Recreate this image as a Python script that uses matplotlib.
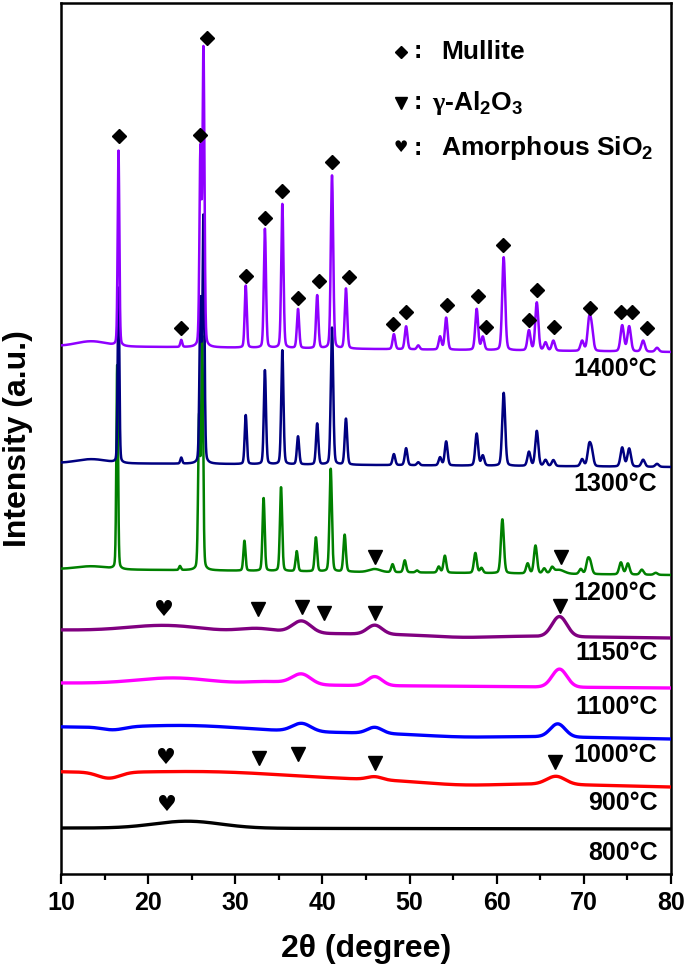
import numpy as np
import matplotlib
matplotlib.use("Agg")
import matplotlib.pyplot as plt
from matplotlib.ticker import MultipleLocator

plt.rcParams['font.family'] = ['Liberation Sans', 'DejaVu Sans']
plt.rcParams['font.weight'] = 'bold'
plt.rcParams['mathtext.fontset'] = 'custom'
plt.rcParams['mathtext.rm'] = 'Liberation Sans:bold'
plt.rcParams['mathtext.bf'] = 'Liberation Sans:bold'
plt.rcParams['mathtext.it'] = 'Liberation Sans:bold'
plt.rcParams['mathtext.sf'] = 'Liberation Serif'
plt.rcParams['mathtext.default'] = 'rm'

# ---------------- data ----------------
temps = ["800°C", "900°C", "1000°C", "1100°C", "1150°C", "1200°C", "1300°C", "1400°C"]
colors = ["#000000", "#FF0000", "#0000FF", "#FF00FF", "#800080", "#008000", "#000080", "#8F00FF"]

# baselines (left, right) in intensity units
base_left = [46, 102, 147, 191, 244, 305, 411, 528]
base_right = [45, 87, 135, 186, 236, 299, 407, 522]

# broad features for amorphous patterns: positions, heights, widths (deg)
broad_800_pos = [24.5]
broad_800_h = [7]
broad_800_w = [9]

broad_900_pos = [15.5, 28.0, 46.0, 56.0, 66.8]
broad_900_h = [-6, 4, 3, -3, 8]
broad_900_w = [3, 18, 2, 10, 2.5]

broad_1000_pos = [16.0, 25.0, 37.6, 46.0, 56.0, 67.0]
broad_1000_h = [-3, 4, 8, 6, -2, 13]
broad_1000_w = [3, 14, 2.5, 2.0, 10, 2.0]

broad_1100_pos = [23.0, 34.0, 37.6, 46.0, 67.2]
broad_1100_h = [6, 3, 10, 9, 18]
broad_1100_w = [10, 6, 2.5, 2.0, 2.0]

broad_1150_pos = [22.0, 32.6, 37.6, 46.0, 56.0, 67.2]
broad_1150_h = [6, 4, 12, 9, -2, 20]
broad_1150_w = [10, 5, 2.5, 2.0, 8, 2.0]

# crystalline (mullite) peaks
mul_pos = [16.6, 23.8, 26.0, 26.35, 31.2, 33.4, 35.4, 37.2, 39.4, 41.1, 42.7,
           48.2, 49.6, 51.0, 53.5, 54.2, 57.7, 58.4, 60.8, 63.7, 64.6, 65.6,
           66.5, 69.8, 70.6, 70.9, 74.4, 75.2, 76.8, 78.4]
h_1400 = [195, 7, 194, 296, 62, 119, 144, 39, 53, 173, 60,
          15, 23, 4, 13, 32, 41, 13, 93, 20, 48, 8,
          10, 10, 29, 20, 26, 25, 11, 4]
h_1300 = [175, 6, 160, 245, 49, 94, 114, 28, 41, 137, 46,
          11, 17, 3, 8, 24, 32, 10, 73, 14, 35, 6,
          6, 7, 19, 14, 19, 18, 7, 3]
h_1200 = [205, 4, 150, 230, 30, 73, 84, 20, 34, 103, 37,
          8, 12, 2, 6, 17, 20, 5, 54, 10, 28, 5,
          5, 5, 13, 10, 12, 11, 5, 2]
shift_1200 = -0.15
hump_pos = [13.5]
hump_h_cryst = [5, 4, 3]   # 1400, 1300, 1200
gamma_1200_pos = [46.0, 67.1]
gamma_1200_h = [3, 4]

# phase marker annotations (2theta, intensity level)
mullite_mk_x = [16.6, 23.8, 25.95, 26.7, 31.2, 33.4, 35.4, 37.2, 39.6, 41.1, 43.0,
                48.1, 49.6, 54.3, 57.85, 58.8, 60.7, 63.7, 64.6, 66.6, 70.7, 74.3, 75.5, 77.2]
mullite_mk_y = [738, 546, 739, 836, 598, 656, 683, 576, 593, 712, 597,
                550, 562, 569, 578, 547, 629, 554, 584, 547, 566, 562, 562, 546]
gamma_mk_x = [46.0, 67.4, 32.6, 37.65, 40.2, 46.0, 67.3, 32.7, 37.2, 46.0, 66.7]
gamma_mk_y = [317, 317, 265, 267, 261, 261, 268, 116, 120, 111, 112]
sio2_mk_x = [21.8, 22.1, 22.2]
sio2_mk_y = [264, 116, 69]

label_y = [21, 71, 119, 167, 221, 281, 390, 505]

xticks = [10, 20, 30, 40, 50, 60, 70, 80]

# ---------------- profile synthesis ----------------
x = np.arange(10.0, 80.0001, 0.02)


def pv(xx, pos, fwhm, eta=0.2):
    g = np.exp(-4 * np.log(2) * ((xx - pos) / fwhm) ** 2)
    l = 1.0 / (1.0 + 4 * ((xx - pos) / fwhm) ** 2)
    return eta * l + (1 - eta) * g


def baseline(i):
    return base_left[i] + (base_right[i] - base_left[i]) * (x - 10) / 70.0


def broad(i, pos, h, w):
    y = baseline(i)
    for p, hh, ww in zip(pos, h, w):
        y = y + hh * np.exp(-4 * np.log(2) * ((x - p) / ww) ** 2)
    return y


def cryst(i, heights, shift, hump_h, extra_pos=(), extra_h=()):
    y = baseline(i)
    for p in hump_pos:
        y = y + hump_h * np.exp(-4 * np.log(2) * ((x - p) / 4.0) ** 2)
    for p, hh in zip(mul_pos, heights):
        w = 0.2 + 0.004 * (p - 10)
        y = y + hh * pv(x, p + shift, w)
    for p, hh in zip(extra_pos, extra_h):
        y = y + hh * np.exp(-4 * np.log(2) * ((x - p) / 1.5) ** 2)
    return y


curves = [
    broad(0, broad_800_pos, broad_800_h, broad_800_w),
    broad(1, broad_900_pos, broad_900_h, broad_900_w),
    broad(2, broad_1000_pos, broad_1000_h, broad_1000_w),
    broad(3, broad_1100_pos, broad_1100_h, broad_1100_w),
    broad(4, broad_1150_pos, broad_1150_h, broad_1150_w),
    cryst(5, h_1200, shift_1200, hump_h_cryst[2], gamma_1200_pos, gamma_1200_h),
    cryst(6, h_1300, 0.0, hump_h_cryst[1]),
    cryst(7, h_1400, 0.0, hump_h_cryst[0]),
]

# ---------------- plot ----------------
fig = plt.figure(figsize=(6.85, 9.71), dpi=100)
ax = fig.add_axes([61 / 685, 1 - 874 / 971, 610 / 685, 871 / 971])

for i, (c, col) in enumerate(zip(curves, colors)):
    lw = 2.4 if i < 5 else 1.8
    ax.plot(x, c, color=col, lw=lw, zorder=2 + i)

for t, ly in zip(temps, label_y):
    ax.text(78.45, ly, t, ha='right', va='center', fontsize=18, fontweight='bold', zorder=20)

ax.plot(mullite_mk_x, mullite_mk_y, linestyle='none', marker='D', color='black',
        markersize=7.5, zorder=30)
ax.plot(gamma_mk_x, gamma_mk_y, linestyle='none', marker='v', color='black',
        markersize=10, zorder=30)
for hx, hy in zip(sio2_mk_x, sio2_mk_y):
    ax.text(hx, hy, '♥', family='DejaVu Sans', fontsize=16, ha='center', va='center', zorder=30)

# legend
ax.plot([49.0], [822], linestyle='none', marker='D', color='black', markersize=5.8)
ax.plot([49.0], [771], linestyle='none', marker='v', color='black', markersize=8.5)
ax.text(49.0, 726, '♥', family='DejaVu Sans', fontsize=11.5, ha='center', va='center')
ax.text(50.5, 823, ':', fontsize=18, va='center')
ax.text(50.5, 772, ':', fontsize=18, va='center')
ax.text(50.5, 726, ':', fontsize=18, va='center')
ax.text(53.6, 822, 'Mullite', fontsize=19, fontweight='bold', va='center')
ax.text(52.6, 771, r'$\mathsf{γ}$-Al$_2$O$_3$', fontsize=19, fontweight='bold', va='center')
ax.text(53.6, 726, r'Amorphous SiO$_2$', fontsize=19, fontweight='bold', va='center')

ax.set_xlim(10, 80)
ax.set_ylim(0, 871)
ax.set_xticks(xticks)
ax.xaxis.set_minor_locator(MultipleLocator(5))
ax.set_yticks([])
ax.tick_params(axis='x', which='major', direction='out', length=7, width=1.6,
               labelsize=18, pad=5)
ax.tick_params(axis='x', which='minor', direction='out', length=4, width=1.6)
for lab in ax.get_xticklabels():
    lab.set_fontweight('bold')
for s in ax.spines.values():
    s.set_linewidth(1.8)

ax.set_xlabel('2θ (degree)', fontsize=23, fontweight='bold', labelpad=14)
ax.set_ylabel('Intensity (a.u.)', fontsize=23, fontweight='bold', labelpad=20)

fig.savefig('out.png', dpi=100)
